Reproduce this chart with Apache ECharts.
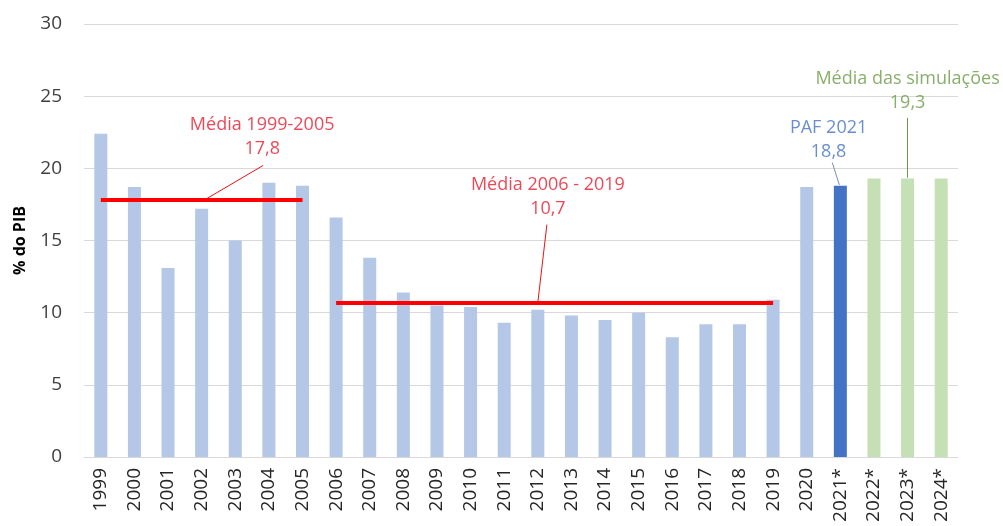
<!DOCTYPE html>
<html>
<head>
<meta charset="utf-8">
<script src="https://cdn.jsdelivr.net/npm/echarts@6/dist/echarts.min.js"></script>
<style>
html,body{margin:0;padding:0;background:#fff;}
#c{width:1003px;height:526px;}
</style>
</head>
<body>
<div id="c"></div>
<script>
// ---- data ----
const years = ['1999','2000','2001','2002','2003','2004','2005','2006','2007','2008','2009','2010','2011','2012','2013','2014','2015','2016','2017','2018','2019','2020','2021*','2022*','2023*','2024*'];
const values = [22.4,18.7,13.1,17.2,15.0,19.0,18.8,16.6,13.8,11.4,10.5,10.4,9.3,10.2,9.8,9.5,10.0,8.3,9.2,9.2,10.9,18.7,18.8,19.3,19.3,19.3];
const kinds = ['h','h','h','h','h','h','h','h','h','h','h','h','h','h','h','h','h','h','h','h','h','h','paf','sim','sim','sim'];
const meanFrom = ['1999','2006'];
const meanTo = ['2005','2019'];
const meanValues = [17.8, 10.7];
const yTicks = [0,5,10,15,20,25,30];
const annoTexts = ['Média 1999-2005\n17,8','Média 2006 - 2019\n10,7','PAF 2021\n18,8','Média das simulações\n19,3'];

// ---- styling / layout ----
const kindColor = {h:'#b4c7e7', paf:'#4472c4', sim:'#c5e0b4'};
const annoColor = ['#e8192c','#e8192c','#4472c4','#6b9a45'];
const leaderColor = ['#ee1111','#ee1111','#7f8fa8','#6b9a45'];
// anchor (category index, value) of annotation text centres
const annoAnchor = [[4.8,22.2],[13.3,18.0],[21.65,22.0],[24.0,25.35]];
// leader lines in (category index, value)
const leaders = [
  [[3.15,17.9],[4.83,20.2]],
  [[13.0,10.7],[13.27,16.1]],
  [[21.76,20.4],[21.97,18.85]],
  [[24.0,23.5],[24.0,19.35]]
];

const font = '"Open Sans", "Noto Sans", sans-serif';
const chart = echarts.init(document.getElementById('c'), null, {renderer:'canvas'});

const option = {
  animation:false,
  backgroundColor:'#fff',
  grid:{left:84,right:45,top:24,bottom:69,containLabel:false},
  xAxis:[{
    type:'category',
    data:years,
    axisLine:{show:true,lineStyle:{color:'#d9d9d9',width:1}},
    axisTick:{show:false},
    axisLabel:{rotate:90,fontSize:19,color:'#262626',fontFamily:font,margin:11,interval:0},
    splitLine:{show:false}
  },{
    type:'value',min:-0.5,max:years.length-0.5,show:false,
    axisLine:{show:false},splitLine:{show:false}
  }],
  yAxis:{
    type:'value',min:yTicks[0],max:yTicks[yTicks.length-1],interval:5,
    name:'% do PIB',nameLocation:'middle',nameGap:56,
    nameTextStyle:{fontSize:16,fontWeight:'bold',color:'#000',fontFamily:font},
    axisLine:{show:false},axisTick:{show:false},
    axisLabel:{fontSize:19,color:'#404040',fontFamily:font,margin:22},
    splitLine:{lineStyle:{color:'#d9d9d9',width:1}}
  },
  series:[
    {
      type:'bar',
      barWidth:13,
      data:values.map((v,i)=>({value:v,itemStyle:{color:kindColor[kinds[i]]}})),
      markLine:{
        silent:true,symbol:'none',
        label:{show:false},
        lineStyle:{color:'#ff0000',width:4,type:'solid'},
        data:meanValues.map((m,i)=>[{coord:[meanFrom[i],m]},{coord:[meanTo[i],m]}])
      },
      z:2
    },
    {
      type:'lines',
      coordinateSystem:'cartesian2d',
      xAxisIndex:1,
      polyline:false,
      silent:true,
      data:leaders.map((c,i)=>({coords:c,lineStyle:{color:leaderColor[i],width:1}})),
      lineStyle:{width:1,opacity:1},
      z:3
    },
    {
      type:'scatter',
      xAxisIndex:1,
      symbolSize:0,
      silent:true,
      data:annoAnchor.map((a,i)=>({
        value:a,
        label:{show:true,position:'inside',formatter:annoTexts[i],color:annoColor[i],
          fontSize:18,lineHeight:24,fontFamily:font,align:'center',verticalAlign:'middle'}
      })),
      z:4
    }
  ]
};
chart.setOption(option);
</script>
</body>
</html>
